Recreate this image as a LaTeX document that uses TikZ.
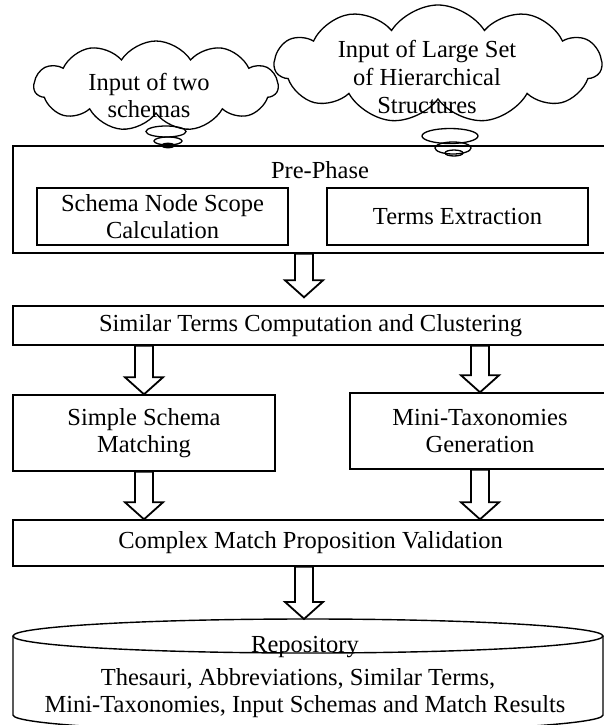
\documentclass[tikz,border=0pt]{standalone}
\usepackage{fontspec}
\setmainfont{Liberation Serif}
\usetikzlibrary{shapes.symbols,calc}

\begin{document}
\begin{tikzpicture}[x=1pt,y=-1pt,
  txt/.style={inner sep=0pt, align=center, font=\fontsize{24.5}{27}\selectfont},
  box/.style={txt, draw, line width=1.4pt},
  thought/.style={draw, cloud, cloud puffs=11, cloud puff arc=115, cloud ignores aspect,
    line width=1.3pt, inner sep=0pt},
  puff/.style={line width=1.3pt},
  hollow/.style={draw, line width=1.8pt, fill=white, line join=miter,
    to path={let \p1=(\tikztostart), \p2=(\tikztotarget) in
      (\x1-9pt,\y1) -- (\x1+9pt,\y1) -- (\x1+9pt,\y2+17pt) -- (\x1+19pt,\y2+17pt)
      -- (\x1,\y2) -- (\x1-19pt,\y2+17pt) -- (\x1-9pt,\y2+17pt) -- cycle}}]
  \clip (0,0) rectangle (604,725);
  % Input clouds
  \node[thought, minimum width=244, minimum height=90] (two) at (156,86) {};
  \node[thought, minimum width=327, minimum height=118] (large) at (438,64) {};
  \node[txt] (twoT) at (149,95) {Input of two\\schemas};
  \node[txt, font=\fontsize{24.5}{28}\selectfont] (largeT) at (427,77)
    {Input of Large Set\\of Hierarchical\\Structures};
  % Thought bubbles
  \draw[puff] (166,131.5) ellipse[x radius=20, y radius=5.5];
  \draw[puff] (168,141) ellipse[x radius=14, y radius=4];
  \filldraw[puff] (168,145.5) ellipse[x radius=6.5, y radius=2.2];
  \draw[puff] (450,136) ellipse[x radius=28, y radius=7.5];
  \draw[puff] (453,148) ellipse[x radius=18, y radius=6];
  \draw[puff] (454,153) ellipse[x radius=9, y radius=3];
  % Pre-phase
  \node[box, minimum width=595, minimum height=107] (pre) at (310.5,199.5) {};
  \node[txt, anchor=base] (preT) at (320,178) {Pre-Phase};
  \node[box, minimum width=251, minimum height=57] (scope) at (162.5,216.5)
    {Schema Node Scope\\Calculation};
  \node[box, minimum width=261, minimum height=57] (terms) at (457.5,216.5)
    {Terms Extraction};
  % Processing steps
  \node[box, minimum width=595, minimum height=39] (sim) at (310.5,325.5)
    {Similar Terms Computation and Clustering};
  \node[box, minimum width=262, minimum height=76] (simple) at (144,433)
    {Simple Schema\\Matching};
  \node[box, minimum width=260, minimum height=76] (mini) at (480,431)
    {Mini-Taxonomies\\Generation};
  \node[box, minimum width=595, minimum height=46] (cmp) at (310.5,543)
    {Complex Match Proposition Validation};
  % Repository
  \coordinate (repo) at (304,619);
  \draw[line width=1.4pt] (13,636) -- (13,715)
    arc[start angle=180, end angle=0, x radius=295, y radius=17] -- (603,636);
  \draw[line width=1.4pt] (308,636) ellipse[x radius=295, y radius=17];
  \node[txt, anchor=base] (repoT) at (305,652) {Repository};
  \node[txt, anchor=base] (repoA) at (298,685) {Thesauri, Abbreviations, Similar Terms,};
  \node[txt, anchor=base] (repoB) at (305,712) {Mini-Taxonomies, Input Schemas and Match Results};
  % Block arrows
  \coordinate (mid) at (304,0);
  \draw[hollow] (pre.south -| mid) to ($(sim.north -| mid)+(0,-8)$);
  \draw[hollow] (sim.south -| simple.north) to (simple.north);
  \draw[hollow] (sim.south -| mini.north) to (mini.north);
  \draw[hollow] (simple.south) to (simple.south |- cmp.north);
  \draw[hollow] (mini.south) to (mini.south |- cmp.north);
  \draw[hollow] (cmp.south -| mid) to (repo);
\end{tikzpicture}
\end{document}
